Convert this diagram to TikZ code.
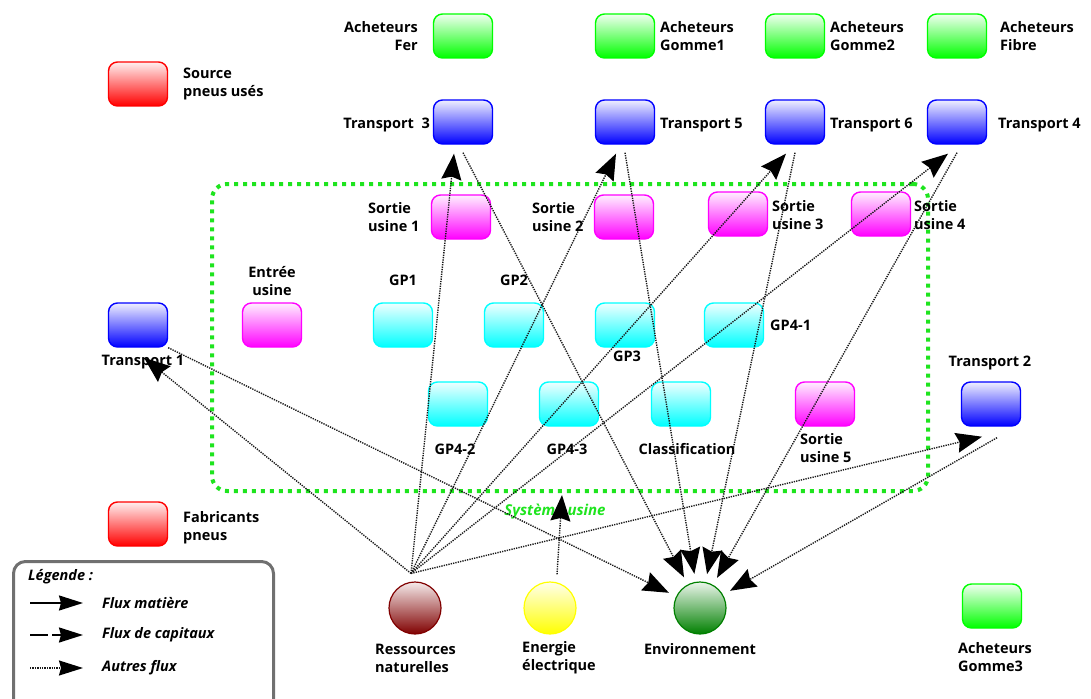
\documentclass[tikz,border=0pt]{standalone}
\usepackage{fontspec}
\setmainfont{Open Sans}
\usetikzlibrary{arrows.meta, calc}
\definecolor{vertA}{RGB}{0,255,0}
\definecolor{bleuT}{RGB}{0,0,255}
\definecolor{roseS}{RGB}{255,0,255}
\definecolor{cyanG}{RGB}{0,255,255}
\definecolor{rougeP}{RGB}{255,0,0}
\definecolor{bordeaux}{RGB}{128,0,0}
\definecolor{jaune}{RGB}{255,255,0}
\definecolor{vertE}{RGB}{0,128,0}
\definecolor{vertSys}{RGB}{30,228,30}
\definecolor{grisLeg}{RGB}{112,112,112}

\begin{document}
\begin{tikzpicture}[x=1pt, y=-1pt,
    boite/.style={draw=#1, line width=1.4pt, rounded corners=9pt, minimum width=59pt,
                  minimum height=44pt, inner sep=0pt, top color=#1!6!white, bottom color=#1},
    rond/.style={circle, draw=#1, line width=1.2pt, minimum size=52pt, inner sep=0pt,
                 top color=#1!8!white, bottom color=#1},
    lbl/.style={font=\bfseries\fontsize{14.5}{18}\selectfont, inner sep=0pt},
    leg/.style={font=\bfseries\itshape\fontsize{14.5}{16}\selectfont, inner sep=0pt, anchor=west},
    autre/.style={-{Stealth[length=26pt,width=20pt,inset=3pt,black]}, line width=1.4pt, black!90,
                  dash pattern=on 1.3pt off 1.1pt},
    matiere/.style={-{Stealth[length=24pt,width=15pt,inset=2pt]}, line width=2pt, black},
    capitaux/.style={-{Stealth[length=24pt,width=15pt,inset=2pt]}, line width=2pt, black,
                     dash pattern=on 18pt off 4pt},
]
\useasboundingbox (0,0) rectangle (1091,698);

% ===== Système usine =====
\node[draw=vertSys, line width=4pt, dash pattern=on 4pt off 5pt, rounded corners=15pt,
      minimum width=716pt, minimum height=307pt, outer sep=0pt] (sys) at (570,337.5) {};
\node[font=\bfseries\itshape\fontsize{15}{16}\selectfont, text=vertSys, inner sep=0pt]
      (syslbl) at (555,512) {Système usine};

% ===== Acheteurs =====
\node[boite=vertA] (fer)  at (463,36) {};
\node[boite=vertA] (gom1) at (625,36) {};
\node[boite=vertA] (gom2) at (795,36) {};
\node[boite=vertA] (fib)  at (957,36) {};
\node[boite=vertA] (gom3) at (992,606) {};
\node[lbl, align=right, anchor=east] (lfer)  at (418,36)  {Acheteurs\\Fer};
\node[lbl, align=left, anchor=west]  (lgom1) at (660,36)  {Acheteurs\\Gomme1};
\node[lbl, align=left, anchor=west]  (lgom2) at (830,36)  {Acheteurs\\Gomme2};
\node[lbl, align=left, anchor=west]  (lfib)  at (1000,36) {Acheteurs\\Fibre};
\node[lbl, align=left, anchor=west]  (lgom3) at (958,657) {Acheteurs\\Gomme3};

% ===== Transports =====
\node[boite=bleuT] (t3) at (463,122) {};
\node[boite=bleuT] (t5) at (625,122) {};
\node[boite=bleuT] (t6) at (795,122) {};
\node[boite=bleuT] (t4) at (957,122) {};
\node[boite=bleuT] (t1) at (138,325) {};
\node[boite=bleuT] (t2) at (991,404) {};
\node[lbl, anchor=east] (lt3) at (430,125) {Transport~~3};
\node[lbl, anchor=west] (lt5) at (660,125) {Transport 5};
\node[lbl, anchor=west] (lt6) at (830,125) {Transport 6};
\node[lbl, anchor=west] (lt4) at (998,125) {Transport 4};
\node[lbl] (lt1) at (143,362) {Transport 1};
\node[lbl] (lt2) at (990,363) {Transport 2};

% ===== Fournisseurs =====
\node[boite=rougeP] (src) at (138,84) {};
\node[boite=rougeP] (fab) at (138,524) {};
\node[lbl, align=left, anchor=west] (lsrc) at (183,84)  {Source\\pneus usés};
\node[lbl, align=left, anchor=west] (lfab) at (183,528) {Fabricants\\pneus};

% ===== Entrée / sorties usine =====
\node[boite=roseS] (ent) at (272,325) {};
\node[boite=roseS] (s1)  at (461,217) {};
\node[boite=roseS] (s2)  at (624,217) {};
\node[boite=roseS] (s3)  at (738,214) {};
\node[boite=roseS] (s4)  at (881,214) {};
\node[boite=roseS] (s5)  at (825,404) {};
\node[lbl, align=center] (lent) at (272,281) {Entrée\\usine};
\node[lbl, align=left, anchor=west] (ls1) at (368,217) {Sortie\\usine 1};
\node[lbl, align=left, anchor=west] (ls2) at (532,217) {Sortie\\usine 2};
\node[lbl, align=left, anchor=west] (ls3) at (772,215) {Sortie\\usine 3};
\node[lbl, align=left, anchor=west] (ls4) at (914,215) {Sortie\\usine 4};
\node[lbl, align=left, anchor=west] (ls5) at (800,448) {Sortie\\usine 5};

% ===== Procédés =====
\node[boite=cyanG] (gp1)  at (403,325) {};
\node[boite=cyanG] (gp2)  at (514,325) {};
\node[boite=cyanG] (gp3)  at (625,325) {};
\node[boite=cyanG] (gp41) at (734,325) {};
\node[boite=cyanG] (gp42) at (458,404) {};
\node[boite=cyanG] (gp43) at (569,404) {};
\node[boite=cyanG] (cls)  at (681,404) {};
\node[lbl] (lgp1)  at (403,280) {GP1};
\node[lbl] (lgp2)  at (514,280) {GP2};
\node[lbl] (lgp3)  at (627,356) {GP3};
\node[lbl, anchor=west] (lgp41) at (770,325) {GP4-1};
\node[lbl] (lgp42) at (455,449) {GP4-2};
\node[lbl] (lgp43) at (567,449) {GP4-3};
\node[lbl] (lcls)  at (687,449) {Classification};

% ===== Milieu =====
\node[rond=bordeaux] (res) at (415,608) {};
\node[rond=jaune]    (ene) at (550,608) {};
\node[rond=vertE]    (env) at (700,608) {};
\node[lbl, align=left, anchor=west] (lres) at (375,658) {Ressources\\naturelles};
\node[lbl, align=left, anchor=west] (lene) at (522,658) {Energie\\électrique};
\node[lbl] (lenv) at (700,649) {Environnement};

% ===== Flux =====
\foreach \t in {t3,t5,t6,t4}
  \draw[autre] ($(res.north)+(-4,-8)$) -- ($(\t.south)+(-9,9)$);
\draw[autre] ($(res.north)+(-4,-8)$) -- ($(t1.south)+(6,10)$);
\draw[autre] ($(res.north)+(-4,-8)$) -- ($(t2.south)+(-9,10)$);
\foreach \t in {t3,t5,t6,t4}
  \draw[autre, shorten >=8pt] ($(\t.south)+(0,8)$) -- (env);
\draw[autre, shorten >=8pt] (t1.south east) -- (env);
\draw[autre, shorten >=8pt] ($(t2.south)+(6,11)$) -- (env);
\draw[autre] ($(ene.north)+(7,-7)$) -- ($(sys.south)+(-8,4)$);

% ===== Légende =====
\node[draw=grisLeg, line width=3pt, rounded corners=12pt, minimum width=260pt,
      minimum height=160pt, anchor=north west] (legbox) at (12,560) {};
\node[leg] (ltitre) at (28,577) {Légende :};
\node[leg] (lf1) at (102,603) {Flux matière};
\node[leg] (lf2) at (102,635) {Flux de capitaux};
\node[leg] (lf3) at (102,668) {Autres flux};
\draw[matiere]  ($(lf1.west)+(-72,0)$) -- ($(lf1.west)+(-19,0)$);
\draw[capitaux] ($(lf2.west)+(-72,0)$) -- ($(lf2.west)+(-19,0)$);
\draw[autre, -{Stealth[length=24pt,width=15pt,inset=2pt,black]}] ($(lf3.west)+(-72,0)$) -- ($(lf3.west)+(-19,0)$);
\end{tikzpicture}
\end{document}
